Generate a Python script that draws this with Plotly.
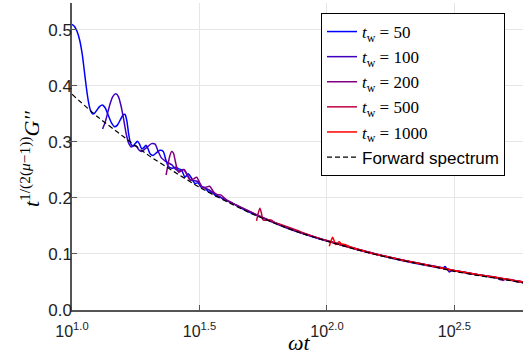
import numpy as np
import plotly.graph_objects as go

# ---- data (x given as log10(omega t), y = t^{1/(2(mu-1))} G'') ----
fwd_logwt = [1.00, 1.10, 1.20, 1.30, 1.40, 1.50, 1.60, 1.70, 1.80, 1.90, 2.00,
             2.10, 2.20, 2.30, 2.40, 2.50, 2.60, 2.70, 2.775]
fwd_val = [0.385, 0.345, 0.310, 0.276, 0.247, 0.219, 0.195, 0.173, 0.154, 0.137, 0.123,
           0.110, 0.098, 0.088, 0.079, 0.069, 0.061, 0.054, 0.048]

tw50_logwt = [1.000, 1.010, 1.020, 1.030, 1.040, 1.048, 1.056, 1.064, 1.072, 1.080, 1.088,
              1.098, 1.108, 1.119, 1.130, 1.142, 1.155, 1.167, 1.178, 1.190, 1.200, 1.208,
              1.215, 1.222, 1.230, 1.240, 1.248, 1.256, 1.265, 1.273, 1.282, 1.290, 1.298,
              1.306, 1.318, 1.332, 1.345, 1.358, 1.368, 1.378, 1.392, 1.405, 1.418, 1.430,
              1.443, 1.456, 1.468, 1.482, 1.495, 1.505, 1.520, 1.535, 1.550, 1.565, 1.580,
              1.600, 1.620, 1.650, 1.680, 1.720, 1.780, 1.850, 1.950, 2.050, 2.150, 2.250,
              2.350, 2.440, 2.455, 2.463, 2.470, 2.500, 2.600, 2.700, 2.775]
tw50_val = [0.510, 0.506, 0.497, 0.482, 0.457, 0.428, 0.398, 0.373, 0.357, 0.350, 0.351,
            0.357, 0.363, 0.366, 0.361, 0.348, 0.334, 0.327, 0.330, 0.340, 0.348, 0.349,
            0.338, 0.315, 0.297, 0.293, 0.297, 0.301, 0.296, 0.288, 0.290, 0.294, 0.288,
            0.279, 0.276, 0.281, 0.285, 0.283, 0.268, 0.256, 0.253, 0.255, 0.252, 0.250,
            0.237, 0.243, 0.236, 0.226, 0.227, 0.220, 0.219, 0.211, 0.210, 0.203, 0.202,
            0.196, 0.193, 0.185, 0.178, 0.170, 0.159, 0.146, 0.130, 0.117, 0.104, 0.093,
            0.083, 0.0755, 0.0745, 0.0775, 0.0740, 0.0700, 0.0620, 0.0550, 0.0485]

tw100_logwt = [1.120, 1.130, 1.140, 1.150, 1.160, 1.172, 1.182, 1.192, 1.202, 1.212, 1.222,
               1.232, 1.242, 1.252, 1.262, 1.272, 1.285, 1.298, 1.312, 1.326, 1.338, 1.350,
               1.365, 1.380, 1.392, 1.405, 1.420, 1.436, 1.450, 1.465, 1.480, 1.495, 1.510,
               1.530, 1.550, 1.570, 1.600, 1.640, 1.700, 1.780, 1.880, 1.980, 2.100, 2.200,
               2.300, 2.400, 2.470, 2.480, 2.490, 2.600, 2.670, 2.680, 2.690, 2.700, 2.775]
tw100_val = [0.323, 0.335, 0.352, 0.369, 0.381, 0.386, 0.381, 0.365, 0.342, 0.316, 0.298,
             0.291, 0.293, 0.293, 0.286, 0.283, 0.287, 0.292, 0.297, 0.296, 0.283, 0.272,
             0.266, 0.262, 0.259, 0.252, 0.248, 0.251, 0.243, 0.232, 0.231, 0.229, 0.220,
             0.216, 0.211, 0.204, 0.197, 0.188, 0.175, 0.158, 0.140, 0.126, 0.111, 0.099,
             0.089, 0.080, 0.0735, 0.0680, 0.0705, 0.0625, 0.0568, 0.0540, 0.0545, 0.0552, 0.0487]

tw200_logwt = [1.369, 1.376, 1.383, 1.391, 1.398, 1.405, 1.412, 1.418, 1.428, 1.440, 1.450,
               1.463, 1.476, 1.489, 1.500, 1.512, 1.525, 1.540, 1.555, 1.570, 1.585, 1.600,
               1.620, 1.660, 1.720, 1.800, 1.900, 2.000, 2.100, 2.200, 2.300, 2.400, 2.500,
               2.600, 2.680, 2.690, 2.700, 2.775]
tw200_val = [0.241, 0.258, 0.274, 0.283, 0.280, 0.266, 0.252, 0.246, 0.248, 0.251, 0.243,
             0.232, 0.234, 0.237, 0.228, 0.218, 0.219, 0.221, 0.211, 0.206, 0.205, 0.199,
             0.193, 0.184, 0.171, 0.155, 0.138, 0.124, 0.111, 0.099, 0.089, 0.080, 0.0705,
             0.0625, 0.0565, 0.0525, 0.0550, 0.0487]

tw500_logwt = [1.724, 1.730, 1.737, 1.743, 1.748, 1.755, 1.768, 1.783, 1.795, 1.810, 1.830,
               1.860, 1.900, 1.950, 2.000, 2.100, 2.200, 2.300, 2.400, 2.500, 2.600, 2.700,
               2.735, 2.744, 2.752, 2.775]
tw500_val = [0.159, 0.172, 0.1815, 0.173, 0.162, 0.160, 0.161, 0.1605, 0.156, 0.154, 0.151,
             0.146, 0.139, 0.131, 0.1235, 0.110, 0.0985, 0.0885, 0.0795, 0.0705, 0.0625, 0.0555,
             0.0530, 0.0505, 0.0520, 0.0487]

tw1000_logwt = [2.009, 2.015, 2.022, 2.028, 2.033, 2.040, 2.048, 2.056, 2.070, 2.100, 2.150,
                2.200, 2.300, 2.400, 2.500, 2.600, 2.700, 2.775]
tw1000_val = [0.114, 0.122, 0.1298, 0.124, 0.117, 0.119, 0.122, 0.118, 0.117, 0.1115, 0.1045,
              0.0985, 0.0885, 0.0795, 0.0700, 0.0622, 0.0552, 0.0487]

tw_labels = ["50", "100", "200", "500", "1000"]
tw_colors = ["#0000ff", "#4000bf", "#800080", "#bf0040", "#ff0000"]
x_tick_exponents = ["1.0", "1.5", "2.0", "2.5"]
y_tick_values = [0.0, 0.1, 0.2, 0.3, 0.4, 0.5]

series = [(tw50_logwt, tw50_val), (tw100_logwt, tw100_val), (tw200_logwt, tw200_val),
          (tw500_logwt, tw500_val), (tw1000_logwt, tw1000_val)]

SERIF = "Liberation Serif"
SANS = "Liberation Sans"

fig = go.Figure()
for (lx, ly), lab, col in zip(series, tw_labels, tw_colors):
    fig.add_trace(go.Scatter(
        x=10 ** np.array(lx), y=ly, mode="lines",
        line=dict(color=col, width=1.5, shape="spline", smoothing=0.6),
        name=f"<i>t</i><sub>w</sub> = {lab}"))
fig.add_trace(go.Scatter(
    x=10 ** np.array(fwd_logwt), y=fwd_val, mode="lines",
    line=dict(color="black", width=1.2, dash="5px,3px", shape="spline", smoothing=0.6),
    name=f'<span style="font-family:{SANS}">Forward spectrum</span>'))

tickvals = [10 ** float(e) for e in x_tick_exponents]
ticktext = [f"10<sup>{e}</sup>" for e in x_tick_exponents]

fig.update_layout(
    width=523, height=358,
    margin=dict(l=72, r=0, t=3, b=48),
    paper_bgcolor="white", plot_bgcolor="white",
    showlegend=True,
    legend=dict(x=(321 - 72) / 451, y=(310 - 13) / 307, xanchor="left", yanchor="top",
                bordercolor="black", borderwidth=1, bgcolor="white",
                font=dict(family=SERIF, size=17, color="black"),
                tracegroupgap=0),
    xaxis=dict(type="log", range=[1.0, 2.769], tickvals=tickvals, ticktext=ticktext,
               showgrid=True, gridcolor="#e6e6e6", gridwidth=1,
               showline=True, linecolor="#555555", linewidth=1.5,
               ticks="inside", ticklen=5, tickcolor="#555555", tickwidth=1,
               ticklabelstandoff=6,
               tickfont=dict(family=SANS, size=16, color="#222222"),
               zeroline=False),
    yaxis=dict(range=[0, 0.548], tickvals=y_tick_values,
               ticktext=[f"{v:.1f}" for v in y_tick_values],
               showgrid=True, gridcolor="#e6e6e6", gridwidth=1,
               showline=True, linecolor="#555555", linewidth=1.5,
               ticks="inside", ticklen=5, tickcolor="#555555", tickwidth=1,
               ticklabelstandoff=-5,
               tickfont=dict(family=SANS, size=17, color="#222222"),
               zeroline=False),
    annotations=[
        dict(text="<i>ωt</i>", xref="paper", yref="paper", x=0.505, y=-0.105,
             xanchor="center", yanchor="middle", showarrow=False,
             font=dict(family=SERIF, size=22, color="black")),
        dict(text="<i>t</i><sup>1/(2(<i>μ</i>−1))</sup><i>G′′</i>", xref="paper", yref="paper",
             x=(30 - 72) / 451, y=(310 - 159) / 307, xanchor="center", yanchor="middle",
             showarrow=False, textangle=-90,
             font=dict(family=SERIF, size=22, color="black")),
    ],
)

fig.write_html("out.html")
